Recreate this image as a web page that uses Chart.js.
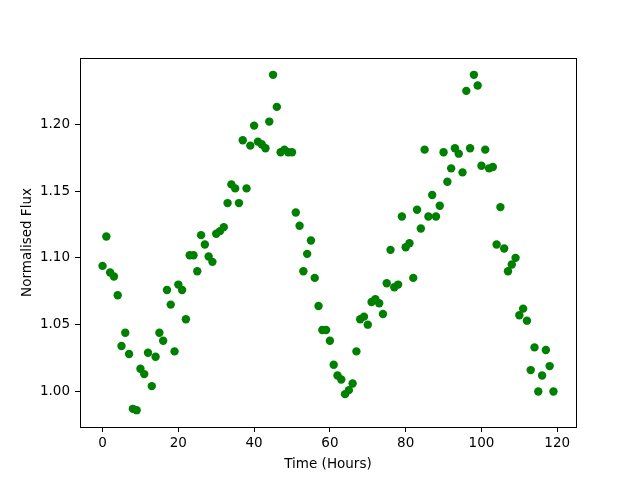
<!DOCTYPE html>
<html>
<head>
<meta charset="utf-8">
<script src="https://cdn.jsdelivr.net/npm/chart.js@4/dist/chart.umd.min.js"></script>
<style>
  html, body { margin: 0; padding: 0; background: #fff; }
</style>
</head>
<body>
<canvas id="c" width="640" height="480"></canvas>
<script>
// ─── Data ────────────────────────────────────────────
var hours = [];
for (var h = 0; h < 120; h++) hours.push(h);

var flux = [
  1.094, 1.116, 1.089, 1.086, 1.072, 1.034, 1.044, 1.028, 0.987, 0.986,
  1.017, 1.013, 1.029, 1.004, 1.026, 1.044, 1.038, 1.076, 1.065, 1.030,
  1.080, 1.076, 1.054, 1.102, 1.102, 1.090, 1.117, 1.110, 1.101, 1.097,
  1.118, 1.120, 1.123, 1.141, 1.155, 1.152, 1.141, 1.188, 1.152, 1.184,
  1.199, 1.187, 1.185, 1.182, 1.202, 1.237, 1.213, 1.179, 1.181, 1.179,
  1.179, 1.134, 1.124, 1.090, 1.103, 1.113, 1.085, 1.064, 1.046, 1.046,
  1.038, 1.020, 1.012, 1.009, 0.998, 1.001, 1.006, 1.030, 1.054, 1.056,
  1.050, 1.067, 1.069, 1.066, 1.058, 1.081, 1.106, 1.078, 1.080, 1.131,
  1.108, 1.111, 1.085, 1.136, 1.122, 1.181, 1.131, 1.147, 1.131, 1.139,
  1.179, 1.157, 1.167, 1.182, 1.178, 1.164, 1.225, 1.182, 1.237, 1.229,
  1.169, 1.181, 1.167, 1.168, 1.110, 1.138, 1.107, 1.090, 1.095, 1.100,
  1.057, 1.062, 1.053, 1.016, 1.033, 1.000, 1.012, 1.031, 1.019, 1.000
];

var xTicks = [0, 20, 40, 60, 80, 100, 120];
var yTicks = [1.00, 1.05, 1.10, 1.15, 1.20];

var points = hours.map(function(x, i) { return { x: x, y: flux[i] }; });

// ─── Frame (all four spines) ─────────────────────────
var framePlugin = {
  id: 'frame',
  afterDatasetsDraw: function(chart) {
    var a = chart.chartArea, ctx = chart.ctx;
    ctx.save();
    ctx.strokeStyle = '#000';
    ctx.lineWidth = 1;
    ctx.strokeRect(Math.round(a.left) + 0.5, Math.round(a.top) + 0.5,
                   Math.round(a.right - a.left), Math.round(a.bottom - a.top));
    ctx.restore();
  }
};

var font = { family: 'DejaVu Sans', size: 13.5 };

new Chart(document.getElementById('c').getContext('2d'), {
  type: 'scatter',
  data: {
    datasets: [{
      data: points,
      backgroundColor: '#008000',
      borderWidth: 0,
      pointRadius: 4.2,
      pointHoverRadius: 4.2
    }]
  },
  options: {
    responsive: false,
    animation: false,
    devicePixelRatio: 1,
    layout: { padding: { left: 0, top: 58, right: 64, bottom: 0 } },
    plugins: { legend: { display: false }, tooltip: { enabled: false } },
    scales: {
      x: {
        type: 'linear', min: -5.95, max: 124.95,
        afterBuildTicks: function(s) { s.ticks = xTicks.map(function(v) { return { value: v }; }); },
        afterFit: function(s) { s.height = 53; },
        grid: { drawOnChartArea: false, drawTicks: true, tickLength: 5, color: '#000' },
        border: { display: false },
        ticks: { color: '#000', font: font, padding: 3, maxRotation: 0 },
        title: { display: true, text: 'Time (Hours)', color: '#000', font: font, padding: { top: 0, bottom: 7 } }
      },
      y: {
        type: 'linear', min: 0.9734, max: 1.2496,
        afterBuildTicks: function(s) { s.ticks = yTicks.map(function(v) { return { value: v }; }); },
        afterFit: function(s) { s.width = 80; },
        grid: { drawOnChartArea: false, drawTicks: true, tickLength: 5, color: '#000' },
        border: { display: false },
        ticks: { color: '#000', font: font, padding: 5, callback: function(v) { return v.toFixed(2); } },
        title: { display: true, text: 'Normalised Flux', color: '#000', font: font, padding: { top: 19, bottom: 0 } }
      }
    }
  },
  plugins: [framePlugin]
});
</script>
</body>
</html>
